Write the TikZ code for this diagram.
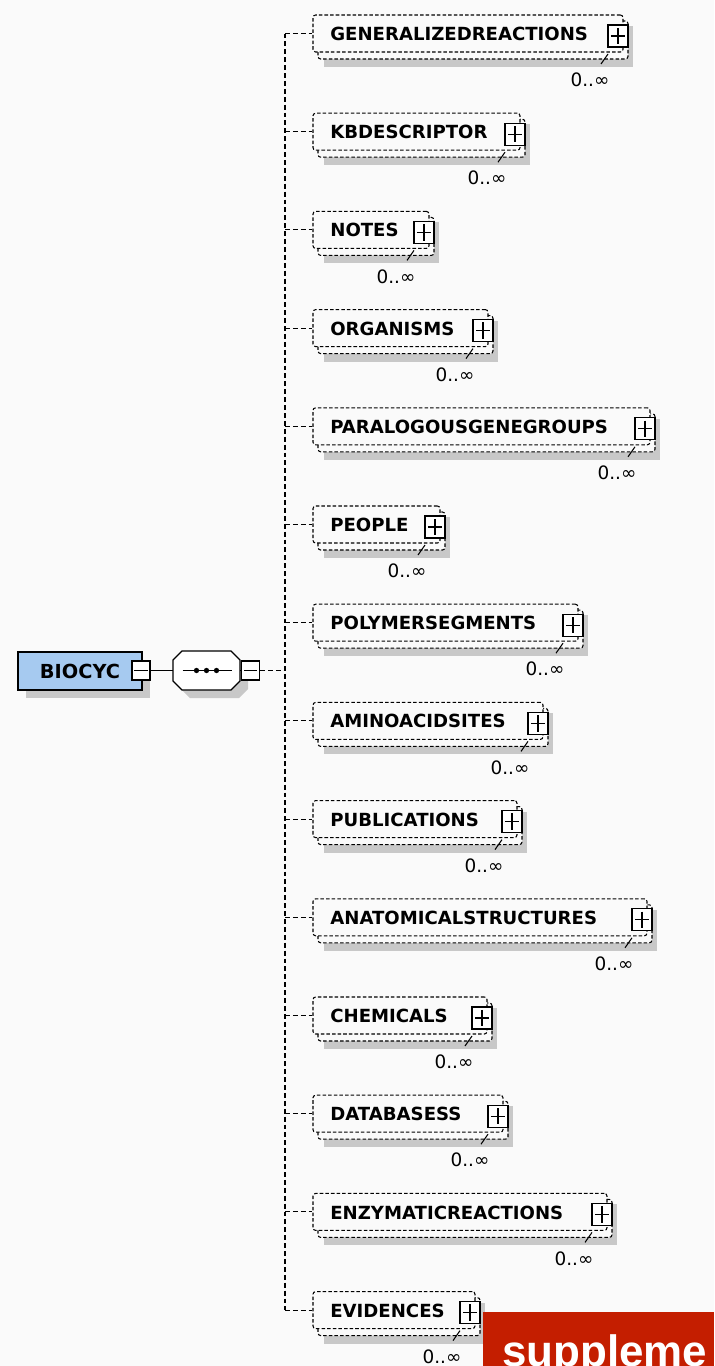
\documentclass[tikz,border=0pt]{standalone}
\usepackage{fontspec}
\setmainfont{DejaVu Sans}
\newfontfamily\bannerfont{Liberation Sans}
\usetikzlibrary{fit,shadows}

\definecolor{rootblue}{RGB}{166,202,240}
\definecolor{shadowgray}{RGB}{200,200,200}
\definecolor{bannerred}{RGB}{196,30,0}
\definecolor{bg}{RGB}{250,250,250}

\begin{document}
\begin{tikzpicture}[
    x=0.02cm, y=-0.02cm,
    dashbox/.style={draw, dash pattern=on 2pt off 1.2pt, line width=0.6pt, rounded corners=1.5pt, fill=bg},
    elem/.style={dashbox, inner sep=0pt},
    elemtext/.style={font=\bfseries\fontsize{10.3}{12}\selectfont, inner sep=0pt, anchor=west},
    mult/.style={font=\fontsize{10.5}{12}\selectfont, inner sep=0pt},
    plusbox/.style={draw, fill=white, line width=0.7pt, minimum width=0.4cm, minimum height=0.44cm, inner sep=0pt,
        path picture={\draw ([xshift=1.6pt]path picture bounding box.west) -- ([xshift=-1.6pt]path picture bounding box.east);
                      \draw ([yshift=-1.6pt]path picture bounding box.north) -- ([yshift=1.6pt]path picture bounding box.south);}},
    minusbox/.style={draw, fill=white, line width=0.6pt, minimum width=0.36cm, minimum height=0.38cm, inner sep=0pt,
        path picture={\draw ([xshift=1.4pt]path picture bounding box.west) -- ([xshift=-1.4pt]path picture bounding box.east);}},
    root/.style={draw, line width=1.1pt, fill=rootblue, minimum width=2.48cm, minimum height=0.76cm, inner sep=0pt,
        font=\bfseries\fontsize{11}{13}\selectfont,
        drop shadow={shadow xshift=0.16cm, shadow yshift=-0.15cm, opacity=1, fill=shadowgray}},
    seqbox/.style={minimum width=1.34cm, minimum height=0.78cm, inner sep=0pt},
    octagon/.style={line width=0.7pt},
    link/.style={dash pattern=on 2.8pt off 1.7pt, line width=0.6pt}
]
\useasboundingbox (0,0) rectangle (714,1366);
\clip (0,0) rectangle (714,1366);
\fill[bg] (0,0) rectangle (714,1366);

% root element and its sequence
\node[root] (biocyc) at (80,671) {BIOCYC};
\node[minusbox] (rootminus) at (141,670.5) {};
\fill[shadowgray, shift={(8,8)}] (182,651) -- (231,651) -- (240,660) -- (240,681) -- (231,690) -- (182,690) -- (173,681) -- (173,660) -- cycle;
\draw[octagon, fill=white] (182,651) -- (231,651) -- (240,660) -- (240,681) -- (231,690) -- (182,690) -- (173,681) -- (173,660) -- cycle;
\node[seqbox] (seq) at (206.5,670.5) {};
\node[minusbox] (seqminus) at (250.5,670.5) {};
\draw[line width=0.6pt] ([xshift=0.2cm]seq.west) -- ([xshift=-0.16cm]seq.east);
\foreach \dx in {-0.2,0,0.2}
    \fill ([xshift=\dx cm]seq.center) circle[radius=1.5pt];
\draw[line width=0.6pt] (rootminus) -- (seq);
\draw[line width=0.6pt] (seq) -- (seqminus);

\coordinate (spine) at (285,34);

% child elements
\foreach \name/\rx [count=\i from 0] in {GENERALIZEDREACTIONS/628, KBDESCRIPTOR/525, NOTES/434, ORGANISMS/493,
        PARALOGOUSGENEGROUPS/655, PEOPLE/445, POLYMERSEGMENTS/583, AMINOACIDSITES/548, PUBLICATIONS/522,
        ANATOMICALSTRUCTURES/652, CHEMICALS/492, DATABASESS/508, ENZYMATICREACTIONS/612, EVIDENCES/480} {
    \pgfmathsetmacro\cy{34+98.2*\i}
    \fill[shadowgray] (324,\cy-8) rectangle (\rx+5,\cy+33);
    \draw[dashbox] (318,\cy-13) rectangle (\rx,\cy+25);
    \node[elem, fit={(313,\cy-19) (\rx-5,\cy+18)}] (e\i) {};
    \node[elemtext] (t\i) at (330,\cy) {\name};
    \node[plusbox] (p\i) at (\rx-10,\cy+2) {};
    \node[mult] (m\i) at (\rx-38,\cy+46) {0..∞};
    \draw[line width=0.6pt] (\rx-20,\cy+20) -- (\rx-27,\cy+30);
    \draw[link] (spine |- e\i.west) -- (e\i.west);
}
\draw[link] (spine |- e0.west) -- (spine |- e13.west);
\draw[link] (seqminus) -- (spine |- seqminus);

% banner cut off at the page edge
\fill[bannerred] (483,1312) rectangle (714,1366);
\node[font=\bannerfont\bfseries\fontsize{25}{28}\selectfont, text=white, anchor=base west, inner sep=0pt] (supp) at (502,1366) {suppleme};
\end{tikzpicture}
\end{document}
